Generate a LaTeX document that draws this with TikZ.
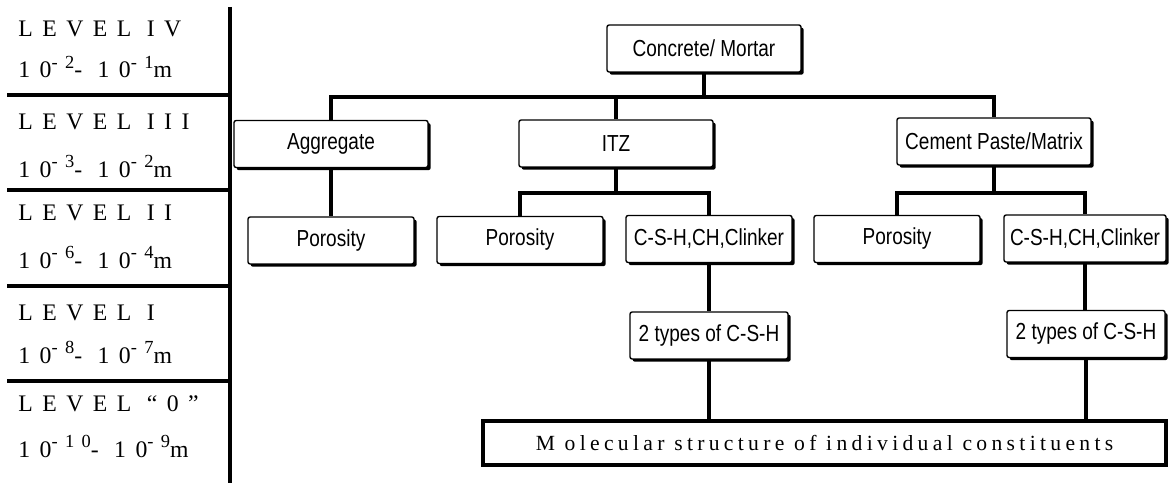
\documentclass[tikz,border=0pt]{standalone}
\usepackage{fontspec}
\setmainfont{Liberation Serif}
\newfontfamily\boxfont[FakeStretch=0.82]{Liberation Sans}
\newfontfamily\levelfont[LetterSpace=40]{Liberation Serif}
\newfontfamily\molfont[LetterSpace=20]{Liberation Serif}
\usetikzlibrary{shadows}
\newcommand{\expo}[1]{\raisebox{0.42em}{\fontsize{10.5}{11}\selectfont #1}}

\begin{document}
\begin{tikzpicture}[
    x=0.02cm, y=-0.02cm,
    box/.style={
        draw, fill=white, line width=0.8pt, rounded corners=1.2pt,
        font=\boxfont\fontsize{13.2}{15}\selectfont, inner sep=2pt,
        minimum height=0.94cm,
        drop shadow={shadow xshift=1.5pt, shadow yshift=-1.5pt, fill=black, opacity=1}
    },
    topbox/.style={box, minimum width=3.88cm},
    midbox/.style={box, minimum width=3.32cm},
    csbox/.style={box, minimum width=3.16cm},
    molbox/.style={
        draw, fill=white, line width=2.4pt, inner sep=2pt,
        minimum width=13.66cm, minimum height=0.88cm,
        font=\molfont\fontsize{12.3}{14}\selectfont
    },
    level/.style={anchor=base west, inner sep=0pt, font=\levelfont\fontsize{13.5}{15}\selectfont},
    link/.style={line width=2.1pt},
    rule/.style={line width=2pt}
]
\useasboundingbox (0,0) rectangle (1169,483);

% scale axis on the left
\coordinate (axtop) at (230,7);
\coordinate (axbot) at (230,483);
\draw[rule] (axtop) -- (axbot);
\foreach \y in {95,190,286,381}
    \draw[rule] (7,\y) -- (axtop |- 0,\y);

\node[level] (lv4)  at (18,37)  {LEVEL IV};
\node[level] (lv4r) at (18,78)  {10\expo{-2}- 10\expo{-1}m};
\node[level] (lv3)  at (18,130) {LEVEL III};
\node[level] (lv3r) at (18,177) {10\expo{-3}- 10\expo{-2}m};
\node[level] (lv2)  at (18,220) {LEVEL II};
\node[level] (lv2r) at (18,268) {10\expo{-6}- 10\expo{-4}m};
\node[level] (lv1)  at (18,320) {LEVEL I};
\node[level] (lv1r) at (18,363) {10\expo{-8}- 10\expo{-7}m};
\node[level] (lv0)  at (18,411) {LEVEL “0”};
\node[level] (lv0r) at (18,457) {10\expo{-10}- 10\expo{-9}m};

% hierarchy
\node[topbox] (concrete) at (704,48.5) {Concrete/ Mortar};
\node[topbox] (agg)      at (331,144)  {Aggregate};
\node[topbox] (itz)      at (616,143.5) {ITZ};
\node[topbox] (cement)   at (994,141.5) {Cement Paste/Matrix};

\node[midbox] (poragg) at (331,240.5) {Porosity};
\node[midbox] (poritz) at (520,240)   {Porosity};
\node[midbox] (cshitz) at (709,239)   {C-S-H,CH,Clinker};
\node[midbox] (porcem) at (897,239)   {Porosity};
\node[midbox, minimum width=3.24cm] (cshcem) at (1085,238.5) {C-S-H,CH,Clinker};

\node[csbox] (typitz) at (709,335.5) {2 types of C-S-H};
\node[csbox] (typcem) at (1086,334)  {2 types of C-S-H};

\node[molbox] (mol) at (824.5,443) {M olecular structure of individual constituents};

% connectors
\coordinate (lvl1) at (0,97);
\coordinate (lvl2) at (0,193);
\draw[link] (concrete.south) -- (concrete.south |- lvl1);
\draw[link] (agg.north) |- (cement.north |- lvl1) -- (cement.north);
\draw[link] (itz.north) -- (itz.north |- lvl1);
\draw[link] (agg.south) -- (poragg.north);
\draw[link] (itz.south) -- (itz.south |- lvl2);
\draw[link] (poritz.north) |- (cshitz.north |- lvl2) -- (cshitz.north);
\draw[link] (cement.south) -- (cement.south |- lvl2);
\draw[link] (porcem.north) |- (cshcem.north |- lvl2) -- (cshcem.north);
\draw[link] (cshitz.south) -- (typitz.north);
\draw[link] (cshcem.south) -- (cshcem.south |- typcem.north);
\draw[link] (typitz.south) -- (typitz.south |- mol.north);
\draw[link] (typcem.south) -- (typcem.south |- mol.north);

\end{tikzpicture}
\end{document}
